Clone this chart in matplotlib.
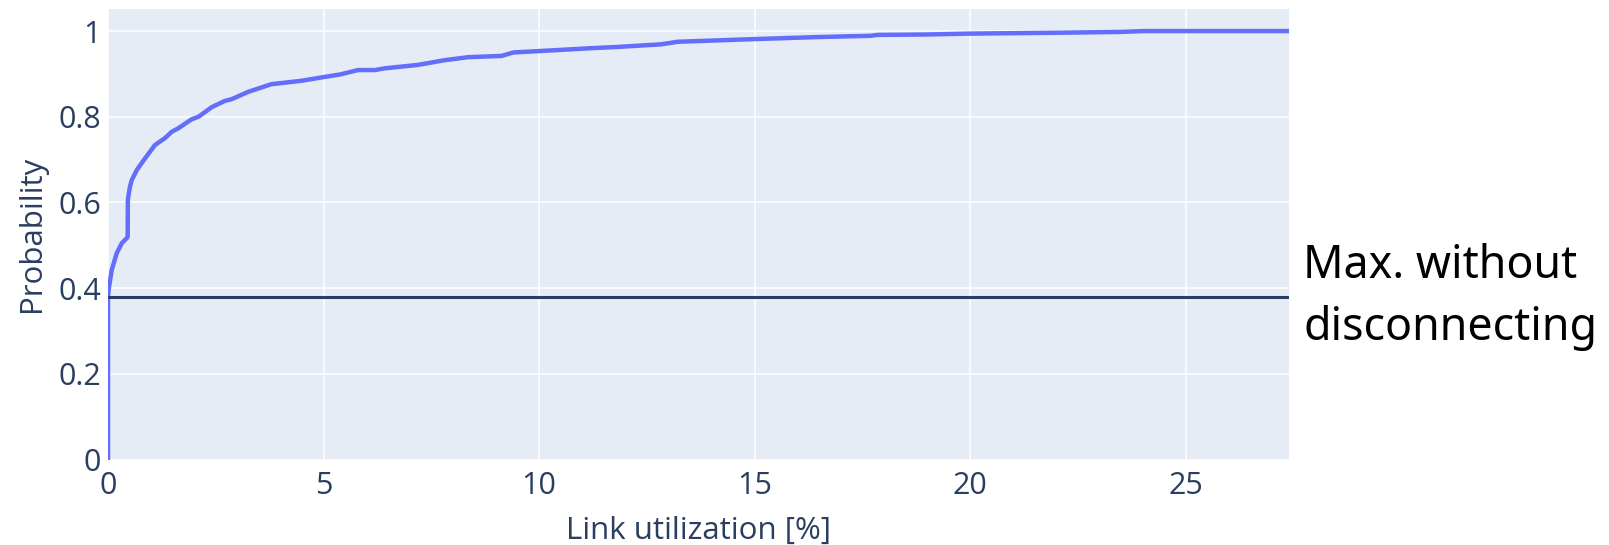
import matplotlib
matplotlib.use("Agg")
import matplotlib.pyplot as plt

# ECDF of link utilization
util_pct = [0.0, 0.0, 0.02, 0.086, 0.2, 0.32, 0.43, 0.457, 0.46, 0.51, 0.55, 0.67, 0.86,
            1.09, 1.32, 1.48, 1.63, 1.94, 2.10, 2.40, 2.71, 2.87, 3.25, 3.79, 4.49, 5.03,
            5.40, 5.80, 6.19, 6.42, 7.19, 7.81, 8.35, 9.13, 9.4, 10.67, 11.2, 11.83,
            12.83, 13.22, 14.92, 16.47, 17.7, 17.85, 19.0, 19.94, 21.99, 23.5, 24.03, 27.4]
probability = [0.0, 0.38, 0.40, 0.442, 0.481, 0.505, 0.516, 0.52, 0.606, 0.637, 0.652, 0.676, 0.703,
               0.734, 0.75, 0.765, 0.773, 0.794, 0.80, 0.822, 0.837, 0.841, 0.858, 0.876, 0.884, 0.893,
               0.899, 0.909, 0.909, 0.913, 0.921, 0.932, 0.939, 0.942, 0.950, 0.957, 0.960, 0.963,
               0.969, 0.975, 0.981, 0.986, 0.989, 0.991, 0.992, 0.994, 0.996, 0.998, 1.0, 1.0]
threshold = 0.38
threshold_lines = ["Max. without", "disconnecting"]
x_ticks = [0, 5, 10, 15, 20, 25]
y_ticks = [0, 0.2, 0.4, 0.6, 0.8, 1]
y_tick_labels = ["0", "0.2", "0.4", "0.6", "0.8", "1"]

W, H = 1609, 545
fig = plt.figure(figsize=(W / 100, H / 100), dpi=100)
ax = fig.add_axes([108 / W, 1 - 459.5 / H, (1289 - 108) / W, (459.5 - 9) / H])
ax.set_facecolor("#E5ECF6")
for s in ax.spines.values():
    s.set_visible(False)

ax.set_xlim(0, 27.4)
ax.set_ylim(0, 1.0515)
ax.set_xticks(x_ticks)
ax.set_yticks(y_ticks)
ax.set_yticklabels(y_tick_labels)
ax.grid(True, color="white", linewidth=1.1)
ax.set_axisbelow(True)

ax.plot(util_pct, probability, color="#636EFA", linewidth=3.2, solid_joinstyle="round", zorder=3)
ax.axhline(threshold, color="#2a3f5f", linewidth=2.2, zorder=4)

font = "Open Sans"
tc = "#2a3f5f"
ax.tick_params(axis="both", length=0, labelsize=22, labelcolor=tc)
ax.tick_params(axis="x", pad=8)
ax.tick_params(axis="y", pad=5)
for lab in ax.get_xticklabels() + ax.get_yticklabels():
    lab.set_fontfamily(font)

ax.set_xlabel("Link utilization [%]", fontsize=22.5, color=tc, family=font, labelpad=11)
ax.set_ylabel("Probability", fontsize=22.5, color=tc, family=font, labelpad=8)

for line, base_px in zip(threshold_lines, [278, 340]):
    fig.text(1303 / W, 1 - base_px / H, line, fontsize=32.2, family="Noto Sans",
             color="black", ha="left", va="baseline")

fig.savefig("out.png", dpi=100)
